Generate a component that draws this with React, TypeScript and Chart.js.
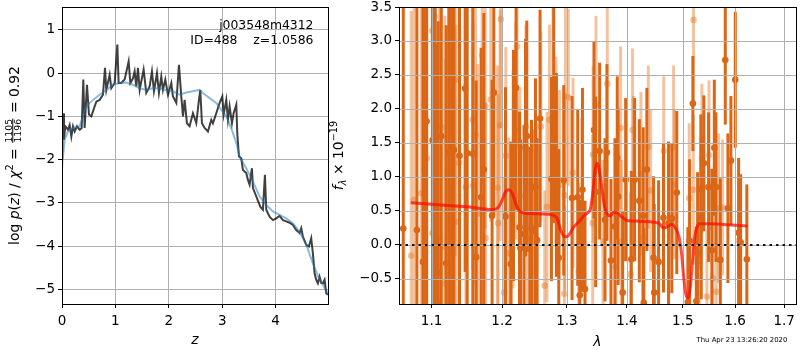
import React, { useEffect, useRef } from 'react';
import { Chart, registerables } from 'chart.js';
Chart.register(...registerables);

const FONT = "'DejaVu Sans', sans-serif";

// ---------- left panel: log p(z) ----------
const zDark = [0.000,0.019,0.037,0.062,0.112,0.143,0.175,0.206,0.237,0.281,
  0.331,0.368,0.399,0.424,0.468,0.505,0.549,0.611,0.643,0.705,
  0.767,0.805,0.830,0.892,0.923,0.986,1.036,1.060,1.110,1.173,
  1.248,1.279,1.329,1.360,1.391,1.422,1.454,1.528,1.578,1.641,
  1.684,1.722,1.778,1.815,1.859,1.890,1.934,1.984,2.046,2.077,
  2.140,2.190,2.233,2.265,2.296,2.339,2.389,2.420,2.452,2.514,
  2.564,2.589,2.620,2.670,2.732,2.795,2.826,2.888,2.951,3.001,
  3.026,3.076,3.107,3.138,3.182,3.213,3.263,3.281,3.313,3.356,
  3.387,3.450,3.481,3.512,3.556,3.575,3.637,3.712,3.762,3.799,
  3.824,3.886,3.949,4.011,4.074,4.136,4.198,4.261,4.323,4.386,
  4.448,4.479,4.510,4.573,4.623,4.666,4.697,4.729,4.760,4.791,
  4.822,4.853,4.885,4.916,4.947,4.978];
const logpDark = [-2.24,-0.93,-1.54,-1.23,-1.31,-1.20,-1.47,-1.23,-1.35,-1.23,
  -1.31,-1.27,-0.15,-1.27,-0.27,-0.96,-1.00,-0.77,-0.66,-0.62,
  -0.50,0.12,-0.39,-0.04,-0.35,-0.23,0.66,-0.23,-0.23,-0.15,
  0.27,-0.23,-0.12,0.04,-0.31,0.12,-0.39,0.08,-0.46,-0.31,
  0.04,-0.42,0.00,-0.46,-0.08,-0.39,-0.15,-0.50,-0.23,-0.54,
  -0.69,0.19,-0.54,-1.00,-0.62,-1.16,-1.23,-1.08,-0.93,-1.16,
  -0.62,-0.39,-1.16,-1.27,-1.35,-1.08,-1.16,-0.93,-0.69,-0.54,
  -0.96,-0.62,-1.08,-0.77,-1.16,-0.93,-0.73,-1.39,-1.93,-1.97,
  -2.24,-2.31,-2.47,-2.58,-2.20,-2.66,-2.85,-3.09,-3.16,-2.35,
  -3.16,-3.32,-3.40,-3.36,-3.30,-3.40,-3.43,-3.46,-3.51,-3.63,
  -3.70,-3.59,-3.78,-3.97,-4.01,-3.82,-4.17,-4.63,-4.78,-4.86,
  -4.71,-4.85,-4.86,-4.78,-5.09,-5.13];
const zFit = [0.000,0.019,0.050,0.112,0.206,0.331,0.381,0.424,0.487,0.580,
  0.705,0.830,0.954,1.079,1.204,1.329,1.454,1.578,1.703,1.828,
  1.953,2.077,2.202,2.327,2.452,2.576,2.639,2.764,2.888,2.982,
  3.076,3.169,3.263,3.325,3.450,3.575,3.699,3.824,3.949,4.074,
  4.198,4.323,4.448,4.573,4.697,4.822,4.947,4.978];
const logpFit = [-2.05,-1.93,-1.54,-1.35,-1.27,-1.23,-1.04,-0.85,-0.73,-0.62,
  -0.50,-0.39,-0.27,-0.23,-0.22,-0.27,-0.35,-0.39,-0.35,-0.35,
  -0.40,-0.42,-0.50,-0.45,-0.42,-0.39,-0.46,-0.58,-0.69,-0.85,
  -1.00,-1.27,-1.62,-1.93,-2.20,-2.51,-2.85,-3.05,-3.20,-3.28,
  -3.36,-3.47,-3.67,-3.97,-4.40,-4.78,-5.02,-5.13];
const zTicks = [0, 1, 2, 3, 4];
const logpTicks = [-5, -4, -3, -2, -1, 0, 1];
const zRange = [0, 4.98];
const logpRange = [-5.34, 1.528];

// ---------- right panel: spectrum ----------
const lamDark = [1.0622,1.0802,1.0883,1.0909,1.0932,1.1014,1.1049,1.1070,1.1090,1.1131,
  1.1200,1.1237,1.1275,1.1307,1.1386,1.1465,1.1494,1.1575,1.1622,1.1694,
  1.1733,1.1853,1.1878,1.2051,1.2130,1.2170,1.2209,1.2261,1.2276,1.2330,
  1.2352,1.2372,1.2418,1.2444,1.2495,1.2505,1.2530,1.2576,1.2754,1.2790,
  1.2833,1.2870,1.2949,1.3083,1.3175,1.3208,1.3252,1.3294,1.3442,1.3470,
  1.3536,1.3626,1.3659,1.3727,1.3794,1.3834,1.3848,1.3926,1.3978,1.4076,
  1.4134,1.4216,1.4285,1.4295,1.4349,1.4468,1.4480,1.4558,1.4647,1.4738,
  1.4798,1.4889,1.5094,1.5126,1.5188,1.5252,1.5277,1.5338,1.5345,1.5395,
  1.5485,1.5548,1.5595,1.5626,1.5711,1.5808,1.5859,1.5918,1.6004,1.6070,
  1.6110,1.6234];
const fluxDark = [0.24,0.22,-0.25,2.07,1.82,1.54,2.13,-0.85,-0.41,1.60,
  -0.27,1.36,1.45,1.40,1.31,2.30,1.35,1.34,-0.18,0.70,
  1.11,0.43,2.24,0.42,-0.28,1.17,2.31,0.26,-0.05,0.16,
  1.43,1.60,-0.06,0.24,0.20,0.85,0.07,1.86,0.97,1.92,
  1.03,-0.19,0.95,0.69,0.70,-0.74,0.81,-0.65,1.69,0.78,
  1.38,0.37,1.36,-0.23,0.27,1.28,0.71,-0.70,0.96,-0.21,
  0.96,0.65,0.43,-0.85,1.11,-0.19,-0.70,-0.25,0.40,0.32,
  0.39,0.77,-0.84,0.06,2.08,-0.83,-0.13,0.82,0.40,1.20,
  0.85,-0.08,1.43,0.85,-0.22,2.72,0.54,1.24,2.43,0.18,
  0.04,-0.21];
const errDark = [3.6,3.8,3.9,3.4,3.5,3.6,3.3,3.8,3.7,3.2,
  3.5,3.0,3.1,2.9,2.6,2.7,2.5,2.4,2.6,2.2,
  2.3,2.0,1.8,1.9,1.8,1.7,1.8,1.7,1.6,1.6,
  1.6,1.7,1.5,1.6,1.5,1.6,1.5,1.6,1.5,1.6,
  1.5,1.6,1.4,1.5,1.3,1.4,1.5,1.3,1.3,1.4,
  1.3,1.2,1.3,1.2,1.3,1.2,1.3,1.2,1.2,1.3,
  1.2,1.2,1.3,1.1,1.2,1.2,1.3,1.2,1.1,1.2,
  1.1,1.2,1.1,1.2,0.7,1.1,1.2,1.1,1.2,1.0,
  1.1,1.2,1.0,1.1,1.2,0.95,1.1,0.95,1.0,1.1,
  1.0,1.1];
const lamLight = [1.0727,1.0763,1.0860,1.0900,1.0936,1.1008,1.1012,1.1045,1.1109,1.1136,
  1.1181,1.1190,1.1242,1.1325,1.1334,1.1380,1.1475,1.1571,1.1578,1.1614,
  1.1646,1.1708,1.1752,1.1758,1.1834,1.1933,1.1942,1.1971,1.1981,1.2030,
  1.2055,1.2100,1.2140,1.2164,1.2204,1.2224,1.2266,1.2282,1.2358,1.2376,
  1.2525,1.2587,1.2649,1.2684,1.2723,1.2779,1.2826,1.2881,1.2960,1.2966,
  1.2975,1.3024,1.3099,1.3190,1.3240,1.3421,1.3428,1.3476,1.3592,1.3665,
  1.3810,1.3891,1.3905,1.4063,1.4098,1.4112,1.4244,1.4274,1.4375,1.4416,
  1.4652,1.4830,1.4846,1.5120,1.5195,1.5200,1.5308,1.5358,1.5453,1.5493,
  1.5567,1.5632,1.5678,1.5755,1.6076];
const fluxLight = [-0.16,0.66,0.76,1.11,1.27,3.15,0.17,3.36,0.07,1.73,
  -0.03,-0.57,1.08,2.43,0.34,1.21,0.85,1.84,0.87,1.62,
  0.46,2.79,2.04,0.10,2.14,0.84,0.32,1.76,3.32,-0.70,
  1.31,-0.12,-0.14,0.96,1.68,2.92,0.72,-0.02,1.74,0.09,
  0.30,1.74,-0.60,0.56,1.84,2.39,1.37,0.88,-0.72,0.73,
  2.19,2.17,1.06,-0.39,0.57,0.32,1.33,2.07,0.05,2.37,
  -0.32,1.72,0.05,-0.43,1.69,0.99,1.05,0.11,1.44,0.80,
  1.38,1.44,0.89,0.69,0.81,3.31,-0.31,1.27,-0.76,1.32,
  -0.49,-0.69,0.54,0.55,0.06];
const errLight = [3.6,3.8,3.5,3.7,3.4,3.0,3.6,3.1,3.5,3.2,
  3.4,3.3,3.0,2.6,2.9,2.6,2.5,2.2,2.4,2.2,
  2.2,1.9,1.8,2.0,1.8,1.8,1.9,1.7,1.6,1.7,
  1.6,1.7,1.6,1.6,1.6,1.5,1.6,1.5,1.5,1.5,
  1.5,1.4,1.4,1.4,1.4,1.3,1.4,1.4,1.3,1.4,
  1.3,1.3,1.4,1.3,1.3,1.3,1.3,1.3,1.2,1.3,
  1.2,1.2,1.2,1.2,1.2,1.2,1.2,1.1,1.2,1.2,
  1.1,1.2,1.1,1.1,1.1,1.2,1.1,1.1,1.0,1.1,
  1.0,1.0,1.1,1.0,0.9];
const lamModel = [1.072,1.10,1.15,1.185,1.195,1.200,1.205,1.210,1.215,1.220,
  1.225,1.232,1.25,1.27,1.28,1.285,1.290,1.295,1.300,1.305,
  1.310,1.320,1.330,1.338,1.342,1.346,1.350,1.354,1.358,1.362,
  1.366,1.372,1.378,1.384,1.390,1.40,1.42,1.44,1.456,1.465,
  1.472,1.480,1.487,1.493,1.498,1.502,1.506,1.510,1.514,1.518,
  1.522,1.526,1.531,1.55,1.60,1.625];
const fluxModel = [0.62,0.60,0.56,0.52,0.56,0.66,0.78,0.81,0.76,0.62,
  0.51,0.47,0.46,0.45,0.43,0.38,0.22,0.13,0.12,0.17,
  0.25,0.35,0.45,0.52,0.75,1.10,1.20,1.05,0.78,0.56,
  0.46,0.43,0.48,0.47,0.42,0.36,0.35,0.34,0.32,0.25,
  0.27,0.30,0.24,0.12,-0.15,-0.50,-0.74,-0.78,-0.62,-0.25,
  0.10,0.25,0.31,0.31,0.29,0.28];
const lamTicks = [1.1, 1.2, 1.3, 1.4, 1.5, 1.6, 1.7];
const fluxTicks = [-0.5, 0, 0.5, 1, 1.5, 2, 2.5, 3, 3.5];
const lamRange = [1.0566, 1.725];
const fluxRange = [-0.869, 3.5];
const zeroLevel = 0;

const fieldName = 'j003548m4312';
const idLabel = 'ID=488    z=1.0586';
const stamp = 'Thu Apr 23 13:26:20 2020';

const DARK = 'rgb(218,102,22)';
const LIGHT = 'rgba(228,122,42,0.45)';
const GRID = '#b0b0b0';

const fmt = (v: number, d: number) => (v < 0 ? '\u2212' : '') + Math.abs(v).toFixed(d);
const pts = (xs: number[], ys: number[]) => xs.map((x, i) => ({ x, y: ys[i] }));

type Seg = { t?: string; it?: boolean; sc?: number; dy?: number; num?: string; den?: string };
function drawMath(ctx: CanvasRenderingContext2D, segs: Seg[], size: number, x: number, y: number, rot: number) {
  const fnt = (s: number, it?: boolean) => `${it ? 'italic ' : ''}${s}px ${FONT}`;
  ctx.save();
  ctx.translate(x, y);
  ctx.rotate(rot);
  ctx.fillStyle = '#000';
  ctx.textBaseline = 'alphabetic';
  ctx.textAlign = 'left';
  const fs = size * 0.67;
  const widths = segs.map((s) => {
    if (s.num !== undefined) {
      ctx.font = fnt(fs);
      return Math.max(ctx.measureText(s.num).width, ctx.measureText(s.den!).width) + size * 0.2;
    }
    ctx.font = fnt(size * (s.sc ?? 1), s.it);
    return ctx.measureText(s.t!).width;
  });
  const total = widths.reduce((a, b) => a + b, 0);
  let cx = -total / 2;
  segs.forEach((s, i) => {
    const w = widths[i];
    if (s.num !== undefined) {
      ctx.font = fnt(fs);
      const axis = -size * 0.47;
      ctx.textAlign = 'center';
      ctx.fillText(s.num, cx + w / 2, axis - 1.1);
      ctx.fillText(s.den!, cx + w / 2, axis + 1.3 + fs * 0.73);
      ctx.fillRect(cx + size * 0.08, axis - 0.5, w - size * 0.16, 1);
      ctx.textAlign = 'left';
    } else {
      ctx.font = fnt(size * (s.sc ?? 1), s.it);
      ctx.fillText(s.t!, cx, (s.dy ?? 0) * size);
    }
    cx += w;
  });
  ctx.restore();
}

function drawFrame(chart: any) {
  const { ctx, chartArea: a } = chart;
  ctx.save();
  ctx.strokeStyle = '#000';
  ctx.lineWidth = 1;
  ctx.strokeRect(a.left + 0.5, a.top + 0.5, a.right - a.left, a.bottom - a.top);
  ctx.restore();
}

const errorBarPlugin = {
  id: 'errbars',
  beforeDatasetDraw(chart: any, args: any) {
    const ds: any = chart.data.datasets[args.index];
    const { ctx, chartArea: a, scales } = chart;
    const xs = scales.x, ys = scales.y;
    if (ds.gridBefore) {
      ctx.save();
      ctx.strokeStyle = GRID;
      ctx.lineWidth = 1;
      ctx.beginPath();
      lamTicks.forEach((v) => {
        const p = Math.round(xs.getPixelForValue(v)) + 0.5;
        ctx.moveTo(p, a.top); ctx.lineTo(p, a.bottom);
      });
      fluxTicks.forEach((v) => {
        const p = Math.round(ys.getPixelForValue(v)) + 0.5;
        ctx.moveTo(a.left, p); ctx.lineTo(a.right, p);
      });
      ctx.stroke();
      ctx.restore();
    }
    if (!ds.errors) return;
    ctx.save();
    ctx.beginPath();
    ctx.rect(a.left, a.top, a.right - a.left, a.bottom - a.top);
    ctx.clip();
    ctx.strokeStyle = ds.errColor;
    ctx.lineWidth = 3;
    ctx.lineCap = 'butt';
    ds.data.forEach((p: any, i: number) => {
      const e = ds.errors[i];
      const px = xs.getPixelForValue(p.x);
      ctx.beginPath();
      ctx.moveTo(px, ys.getPixelForValue(p.y - e));
      ctx.lineTo(px, ys.getPixelForValue(p.y + e));
      ctx.stroke();
    });
    ctx.restore();
  },
};

const leftDecor = {
  id: 'leftDecor',
  afterDraw(chart: any) {
    const { ctx, chartArea: a } = chart;
    drawFrame(chart);
    ctx.save();
    ctx.fillStyle = '#000';
    ctx.font = `12.4px ${FONT}`;
    ctx.textAlign = 'right';
    ctx.textBaseline = 'alphabetic';
    ctx.fillText(fieldName, a.right - 14.5, a.top + 21.5);
    ctx.fillText(idLabel, a.right - 14.5, a.top + 37.2);
    ctx.font = `italic 14px ${FONT}`;
    ctx.textAlign = 'center';
    ctx.fillText('z', (a.left + a.right) / 2, 344);
    ctx.restore();
    drawMath(ctx, [
      { t: 'log ' }, { t: 'p', it: true }, { t: '(' }, { t: 'z', it: true }, { t: ') / ' },
      { t: '\u03c7', it: true }, { t: '2', sc: 0.7, dy: -0.42 }, { t: ' = ' },
      { num: '1105', den: '1196' }, { t: ' = 0.92' },
    ], 13.9, 19.3, (a.top + a.bottom) / 2, -Math.PI / 2);
  },
};

const rightDecor = {
  id: 'rightDecor',
  afterDatasetsDraw(chart: any) {
    const { ctx, chartArea: a, scales } = chart;
    const y0 = scales.y.getPixelForValue(zeroLevel);
    ctx.save();
    ctx.strokeStyle = 'rgba(0,0,0,0.9)';
    ctx.lineWidth = 2;
    ctx.setLineDash([2.5, 4]);
    ctx.beginPath();
    ctx.moveTo(a.left, y0);
    ctx.lineTo(a.right, y0);
    ctx.stroke();
    ctx.restore();
  },
  afterDraw(chart: any) {
    const { ctx, chartArea: a } = chart;
    drawFrame(chart);
    ctx.save();
    ctx.fillStyle = '#000';
    ctx.font = `italic 14px ${FONT}`;
    ctx.textAlign = 'center';
    ctx.textBaseline = 'alphabetic';
    ctx.fillText('\u03bb', (a.left + a.right) / 2, 346);
    ctx.font = `6.9px ${FONT}`;
    ctx.textAlign = 'left';
    ctx.fillText(stamp, 696.5, 341.7);
    ctx.restore();
    drawMath(ctx, [
      { t: 'f', it: true }, { t: '\u03bb', it: true, sc: 0.7, dy: 0.22 },
      { t: ' \u00d7 10' }, { t: '\u221219', sc: 0.7, dy: -0.42 },
    ], 13.9, 343, (a.top + a.bottom) / 2, -Math.PI / 2);
  },
};

const tickFont = { family: FONT, size: 13.5 };

function makeLeft(canvas: HTMLCanvasElement) {
  return new Chart(canvas, {
    type: 'scatter',
    data: {
      datasets: [
        { data: pts(zFit, logpFit), showLine: true, borderColor: 'rgba(31,119,180,0.5)', borderWidth: 2, pointRadius: 0 } as any,
        { data: pts(zDark, logpDark), showLine: true, borderColor: 'rgba(0,0,0,0.75)', borderWidth: 2, pointRadius: 0 } as any,
      ],
    },
    options: {
      animation: false,
      responsive: false,
      events: [],
      layout: { padding: { left: 0, top: 7, right: 472, bottom: 0 } },
      plugins: { legend: { display: false }, tooltip: { enabled: false } },
      scales: {
        x: {
          type: 'linear', min: zRange[0], max: zRange[1],
          afterBuildTicks: (s: any) => { s.ticks = zTicks.map((v) => ({ value: v })); },
          afterFit: (s: any) => { s.height = 46; s.paddingLeft = 0; s.paddingRight = 0; },
          grid: { color: GRID, tickColor: '#000', tickLength: 4, lineWidth: 1 },
          border: { display: false },
          ticks: { font: tickFont, color: '#000', padding: 5, maxRotation: 0, autoSkip: false, callback: (v: any) => fmt(Number(v), 0) },
        },
        y: {
          type: 'linear', min: logpRange[0], max: logpRange[1],
          afterBuildTicks: (s: any) => { s.ticks = logpTicks.map((v) => ({ value: v })); },
          afterFit: (s: any) => { s.width = 62; s.paddingTop = 0; s.paddingBottom = 0; },
          grid: { color: GRID, tickColor: '#000', tickLength: 4, lineWidth: 1 },
          border: { display: false },
          ticks: { font: tickFont, color: '#000', padding: 3, autoSkip: false, callback: (v: any) => fmt(Number(v), 0) },
        },
      },
    } as any,
    plugins: [leftDecor],
  });
}

function makeRight(canvas: HTMLCanvasElement) {
  return new Chart(canvas, {
    type: 'scatter',
    data: {
      datasets: [
        { data: pts(lamModel, fluxModel), showLine: true, borderColor: 'rgba(255,10,0,0.72)', borderWidth: 3, pointRadius: 0, cubicInterpolationMode: 'monotone', gridBefore: true } as any,
        { data: pts(lamDark, fluxDark), errors: errDark, errColor: DARK, backgroundColor: DARK, borderWidth: 0, pointRadius: 3.3 } as any,
        { data: pts(lamLight, fluxLight), errors: errLight, errColor: LIGHT, backgroundColor: LIGHT, borderWidth: 0, pointRadius: 3.3 } as any,
      ],
    },
    options: {
      animation: false,
      responsive: false,
      events: [],
      layout: { padding: { left: 0, top: 7, right: 3, bottom: 0 } },
      plugins: { legend: { display: false }, tooltip: { enabled: false } },
      scales: {
        x: {
          type: 'logarithmic', min: lamRange[0], max: lamRange[1],
          afterBuildTicks: (s: any) => { s.ticks = lamTicks.map((v) => ({ value: v })); },
          afterFit: (s: any) => { s.height = 46; s.paddingLeft = 0; s.paddingRight = 0; },
          grid: { color: 'rgba(0,0,0,0)', tickColor: '#000', tickLength: 4, lineWidth: 1 },
          border: { display: false },
          ticks: { font: tickFont, color: '#000', padding: 5, maxRotation: 0, autoSkip: false, callback: (v: any) => fmt(Number(v), 1) },
        },
        y: {
          type: 'linear', min: fluxRange[0], max: fluxRange[1],
          afterBuildTicks: (s: any) => { s.ticks = fluxTicks.map((v) => ({ value: v })); },
          afterFit: (s: any) => { s.width = 399; s.paddingTop = 0; s.paddingBottom = 0; },
          grid: { color: 'rgba(0,0,0,0)', tickColor: '#000', tickLength: 4, lineWidth: 1 },
          border: { display: false },
          ticks: { font: tickFont, color: '#000', padding: 3, autoSkip: false, callback: (v: any) => fmt(Number(v), 1) },
        },
      },
    } as any,
    plugins: [errorBarPlugin, rightDecor],
  });
}

export default function App() {
  const leftRef = useRef<HTMLCanvasElement>(null);
  const rightRef = useRef<HTMLCanvasElement>(null);
  useEffect(() => {
    const c1 = makeLeft(leftRef.current!);
    const c2 = makeRight(rightRef.current!);
    return () => { c1.destroy(); c2.destroy(); };
  }, []);
  return (
    <div style={{ position: 'fixed', left: 0, top: 0, width: 800, height: 350, background: '#fff' }}>
      <canvas ref={leftRef} width={800} height={350} style={{ position: 'absolute', left: 0, top: 0 }} />
      <canvas ref={rightRef} width={800} height={350} style={{ position: 'absolute', left: 0, top: 0 }} />
    </div>
  );
}
